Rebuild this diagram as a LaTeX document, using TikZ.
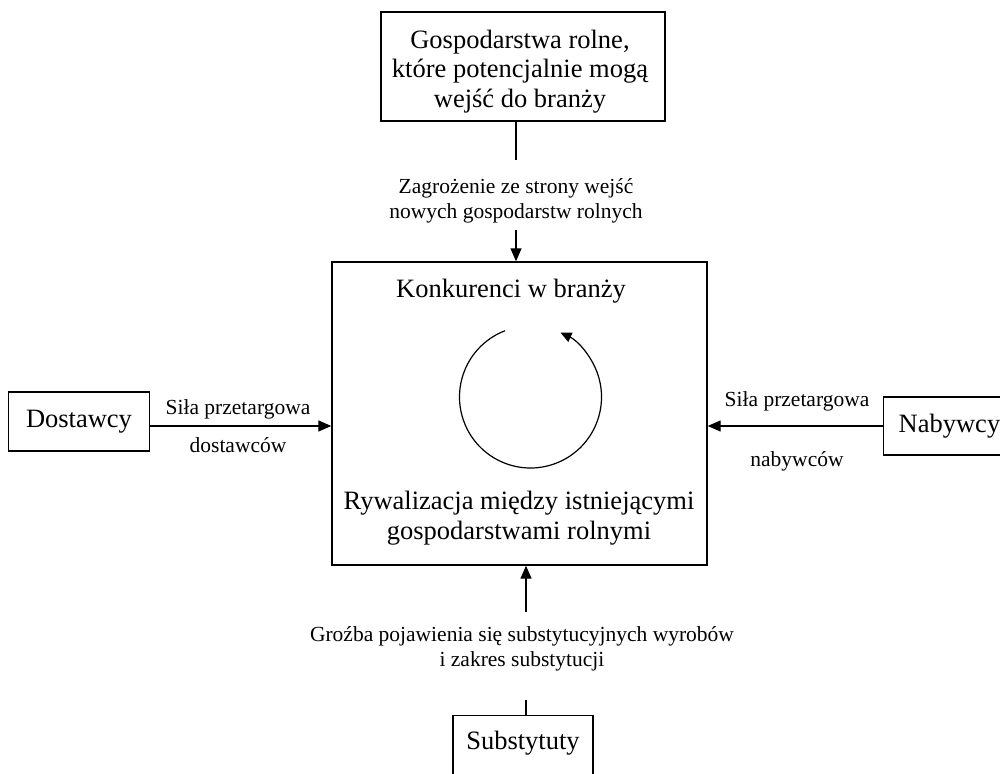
\documentclass[tikz,border=0pt]{standalone}
\usepackage{fontspec}
\setmainfont{Liberation Serif}
\usetikzlibrary{arrows.meta}
\begin{document}
\begin{tikzpicture}[x=1pt,y=1pt,
  box/.style={draw, line width=1.4pt, inner sep=0pt},
  bigtxt/.style={font=\fontsize{26.5}{29.5}\selectfont, align=center, inner sep=0pt},
  smalltxt/.style={font=\fontsize{21.5}{25}\selectfont, align=center, inner sep=0pt},
  arr/.style={line width=1.3pt, -{Triangle[length=13pt,width=11pt]}},
  plain/.style={line width=1.3pt}]
\useasboundingbox (0,0) rectangle (1000,773);
% boxes
\node[box, minimum width=284, minimum height=109] (top) at (523,706.5) {};
\node[bigtxt] (topText) at (520,701.5) {Gospodarstwa rolne,\\które potencjalnie mogą\\wejść do branży};
\node[box, minimum width=375, minimum height=303] (center) at (519.5,359.5) {};
\node[bigtxt, anchor=base] (konk) at (511,475) {Konkurenci w branży};
\node[bigtxt] (ryw) at (519,255) {Rywalizacja między istniejącymi\\gospodarstwami rolnymi};
\node[box, bigtxt, draw, line width=1.4pt, minimum width=141, minimum height=59] (dost) at (79,351.5) {Dostawcy};
\node[box, bigtxt, draw, line width=1.4pt, anchor=west, minimum height=58, inner xsep=15pt] (nab) at (883,347) {Nabywcy};
\node[box, bigtxt, draw, line width=1.4pt, anchor=north, minimum width=140, inner ysep=15pt, text depth=30pt] (sub) at (523,58) {Substytuty};
% labels
\node[smalltxt] (lblTop) at (516,572.5) {Zagrożenie ze strony wejść\\nowych gospodarstw rolnych};
\node[smalltxt, anchor=base] (lblL1) at (238,358) {Siła przetargowa};
\node[smalltxt, anchor=base] (lblL2) at (238,320) {dostawców};
\node[smalltxt, anchor=base] (lblR1) at (797,366) {Siła przetargowa};
\node[smalltxt, anchor=base] (lblR2) at (797,306) {nabywców};
\node[smalltxt] (lblB) at (522,124) {Groźba pojawienia się substytucyjnych wyrobów\\i zakres substytucji};
% connector coordinates
\coordinate (t1) at (516,613);
\coordinate (t2) at (516,543);
\coordinate (b1) at (526,161);
\coordinate (b2) at (526,73);
% connectors
\draw[plain] (top.south -| t1) -- (t1);
\draw[arr] (t2) -- (t2 |- center.north);
\draw[arr] (b1) -- (b1 |- center.south);
\draw[plain] (b2) -- (b2 |- sub.north);
\draw[arr] ([yshift=-4.5pt]dost.east) -- ([yshift=-4.5pt]dost.east -| center.west);
\draw[arr] (nab.west) -- (nab.west -| center.east);
% rotation circle
\coordinate (cc) at (530.5,376);
\draw[line width=1.2pt, -{Triangle[length=11pt,width=10pt]}] ([shift={(111:71)}]cc) arc[start angle=111, end angle=425, radius=71];
\end{tikzpicture}
\end{document}
